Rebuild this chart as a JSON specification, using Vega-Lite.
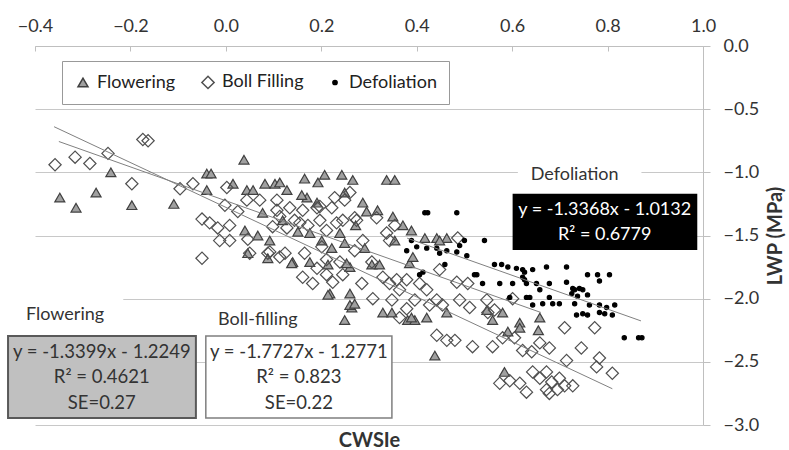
{
  "$schema": "https://vega.github.io/schema/vega-lite/v6.json",
  "width": 668,
  "height": 379,
  "autosize": {"type": "none"},
  "padding": {"left": 35, "top": 46, "right": 86, "bottom": 25},
  "background": "white",
  "config": {"font": "Lato", "view": {"stroke": null}},
  "datasets": {
    "points": [
      {"stage":"Flowering","cwsi":-0.348,"lwp":-1.20},{"stage":"Flowering","cwsi":-0.314,"lwp":-1.28},{"stage":"Flowering","cwsi":-0.272,"lwp":-1.16},{"stage":"Flowering","cwsi":-0.241,"lwp":-1.00},{"stage":"Flowering","cwsi":-0.197,"lwp":-1.26},{"stage":"Flowering","cwsi":-0.109,"lwp":-1.25},{"stage":"Flowering","cwsi":0.038,"lwp":-0.90},{"stage":"Flowering","cwsi":-0.040,"lwp":-1.01},{"stage":"Flowering","cwsi":-0.031,"lwp":-1.01},{"stage":"Flowering","cwsi":-0.040,"lwp":-1.14},{"stage":"Flowering","cwsi":0.015,"lwp":-1.09},{"stage":"Flowering","cwsi":0.082,"lwp":-1.09},{"stage":"Flowering","cwsi":0.103,"lwp":-1.09},{"stage":"Flowering","cwsi":0.113,"lwp":-1.08},{"stage":"Flowering","cwsi":0.128,"lwp":-1.14},{"stage":"Flowering","cwsi":0.165,"lwp":-1.05},{"stage":"Flowering","cwsi":0.207,"lwp":-1.02},{"stage":"Flowering","cwsi":0.243,"lwp":-1.02},{"stage":"Flowering","cwsi":0.266,"lwp":-1.06},{"stage":"Flowering","cwsi":0.337,"lwp":-1.06},{"stage":"Flowering","cwsi":0.354,"lwp":-1.06},{"stage":"Flowering","cwsi":0.044,"lwp":-1.14},{"stage":"Flowering","cwsi":0.057,"lwp":-1.14},{"stage":"Flowering","cwsi":0.193,"lwp":-1.08},{"stage":"Flowering","cwsi":0.040,"lwp":-1.46},{"stage":"Flowering","cwsi":0.067,"lwp":-1.50},{"stage":"Flowering","cwsi":0.170,"lwp":-1.20},{"stage":"Flowering","cwsi":0.191,"lwp":-1.24},{"stage":"Flowering","cwsi":0.287,"lwp":-1.24},{"stage":"Flowering","cwsi":0.318,"lwp":-1.30},{"stage":"Flowering","cwsi":0.239,"lwp":-1.48},{"stage":"Flowering","cwsi":0.249,"lwp":-1.56},{"stage":"Flowering","cwsi":0.176,"lwp":-1.48},{"stage":"Flowering","cwsi":0.201,"lwp":-1.54},{"stage":"Flowering","cwsi":0.077,"lwp":-1.32},{"stage":"Flowering","cwsi":0.046,"lwp":-1.64},{"stage":"Flowering","cwsi":0.088,"lwp":-1.68},{"stage":"Flowering","cwsi":0.140,"lwp":-1.71},{"stage":"Flowering","cwsi":0.176,"lwp":-1.71},{"stage":"Flowering","cwsi":0.214,"lwp":-1.73},{"stage":"Flowering","cwsi":0.260,"lwp":-1.75},{"stage":"Flowering","cwsi":0.306,"lwp":-1.73},{"stage":"Flowering","cwsi":0.322,"lwp":-1.73},{"stage":"Flowering","cwsi":0.218,"lwp":-1.96},{"stage":"Flowering","cwsi":0.260,"lwp":-1.96},{"stage":"Flowering","cwsi":0.249,"lwp":-1.16},{"stage":"Flowering","cwsi":0.295,"lwp":-1.31},{"stage":"Flowering","cwsi":0.350,"lwp":-1.35},{"stage":"Flowering","cwsi":0.389,"lwp":-1.46},{"stage":"Flowering","cwsi":0.417,"lwp":-1.52},{"stage":"Flowering","cwsi":0.442,"lwp":-1.52},{"stage":"Flowering","cwsi":0.463,"lwp":-1.52},{"stage":"Flowering","cwsi":0.448,"lwp":-1.54},{"stage":"Flowering","cwsi":0.371,"lwp":-1.42},{"stage":"Flowering","cwsi":0.354,"lwp":-1.54},{"stage":"Flowering","cwsi":0.253,"lwp":-1.72},{"stage":"Flowering","cwsi":0.264,"lwp":-2.07},{"stage":"Flowering","cwsi":0.249,"lwp":-2.17},{"stage":"Flowering","cwsi":0.329,"lwp":-2.11},{"stage":"Flowering","cwsi":0.348,"lwp":-2.11},{"stage":"Flowering","cwsi":0.381,"lwp":-2.17},{"stage":"Flowering","cwsi":0.396,"lwp":-2.17},{"stage":"Flowering","cwsi":0.421,"lwp":-2.15},{"stage":"Flowering","cwsi":0.463,"lwp":-2.11},{"stage":"Flowering","cwsi":0.385,"lwp":-1.72},{"stage":"Flowering","cwsi":0.392,"lwp":-1.67},{"stage":"Flowering","cwsi":0.559,"lwp":-2.17},{"stage":"Flowering","cwsi":0.547,"lwp":-2.09},{"stage":"Flowering","cwsi":0.438,"lwp":-2.45},{"stage":"Flowering","cwsi":0.580,"lwp":-2.11},{"stage":"Flowering","cwsi":0.616,"lwp":-2.19},{"stage":"Flowering","cwsi":0.616,"lwp":-2.23},{"stage":"Flowering","cwsi":0.658,"lwp":-2.15},{"stage":"Flowering","cwsi":0.655,"lwp":-2.25},{"stage":"Flowering","cwsi":0.591,"lwp":-2.26},{"stage":"Flowering","cwsi":0.584,"lwp":-2.58},{"stage":"Flowering","cwsi":0.389,"lwp":-2.15},{"stage":"Flowering","cwsi":0.138,"lwp":-1.72},{"stage":"Flowering","cwsi":0.214,"lwp":-1.97},{"stage":"Flowering","cwsi":0.260,"lwp":-2.05},{"stage":"Flowering","cwsi":0.270,"lwp":-2.04},{"stage":"Flowering","cwsi":0.119,"lwp":-1.38},{"stage":"Flowering","cwsi":0.151,"lwp":-1.47},{"stage":"Flowering","cwsi":0.092,"lwp":-1.54},{"stage":"Flowering","cwsi":0.222,"lwp":-1.60},{"stage":"Flowering","cwsi":0.272,"lwp":-1.42},{"stage":"Flowering","cwsi":0.291,"lwp":-1.60},{"stage":"Flowering","cwsi":0.159,"lwp":-1.18},
      {"stage":"Boll Filling","cwsi":-0.358,"lwp":-0.94},{"stage":"Boll Filling","cwsi":-0.316,"lwp":-0.88},{"stage":"Boll Filling","cwsi":-0.285,"lwp":-0.93},{"stage":"Boll Filling","cwsi":-0.247,"lwp":-0.85},{"stage":"Boll Filling","cwsi":-0.197,"lwp":-1.09},{"stage":"Boll Filling","cwsi":-0.174,"lwp":-0.74},{"stage":"Boll Filling","cwsi":-0.163,"lwp":-0.75},{"stage":"Boll Filling","cwsi":-0.096,"lwp":-1.13},{"stage":"Boll Filling","cwsi":-0.069,"lwp":-1.09},{"stage":"Boll Filling","cwsi":-0.050,"lwp":-1.37},{"stage":"Boll Filling","cwsi":-0.034,"lwp":-1.40},{"stage":"Boll Filling","cwsi":-0.017,"lwp":-1.44},{"stage":"Boll Filling","cwsi":-0.013,"lwp":-1.54},{"stage":"Boll Filling","cwsi":0.008,"lwp":-1.54},{"stage":"Boll Filling","cwsi":-0.050,"lwp":-1.68},{"stage":"Boll Filling","cwsi":0.002,"lwp":-1.12},{"stage":"Boll Filling","cwsi":0.025,"lwp":-1.31},{"stage":"Boll Filling","cwsi":0.046,"lwp":-1.53},{"stage":"Boll Filling","cwsi":0.050,"lwp":-1.64},{"stage":"Boll Filling","cwsi":0.044,"lwp":-1.22},{"stage":"Boll Filling","cwsi":0.071,"lwp":-1.22},{"stage":"Boll Filling","cwsi":0.092,"lwp":-1.63},{"stage":"Boll Filling","cwsi":0.124,"lwp":-1.64},{"stage":"Boll Filling","cwsi":0.107,"lwp":-1.22},{"stage":"Boll Filling","cwsi":0.098,"lwp":-1.43},{"stage":"Boll Filling","cwsi":0.134,"lwp":-1.28},{"stage":"Boll Filling","cwsi":0.155,"lwp":-1.40},{"stage":"Boll Filling","cwsi":0.165,"lwp":-1.64},{"stage":"Boll Filling","cwsi":0.161,"lwp":-1.83},{"stage":"Boll Filling","cwsi":0.182,"lwp":-1.88},{"stage":"Boll Filling","cwsi":0.211,"lwp":-1.69},{"stage":"Boll Filling","cwsi":0.197,"lwp":-1.27},{"stage":"Boll Filling","cwsi":0.232,"lwp":-1.40},{"stage":"Boll Filling","cwsi":0.260,"lwp":-1.16},{"stage":"Boll Filling","cwsi":0.274,"lwp":-1.38},{"stage":"Boll Filling","cwsi":0.287,"lwp":-1.54},{"stage":"Boll Filling","cwsi":0.316,"lwp":-1.36},{"stage":"Boll Filling","cwsi":0.337,"lwp":-1.48},{"stage":"Boll Filling","cwsi":0.343,"lwp":-1.88},{"stage":"Boll Filling","cwsi":0.329,"lwp":-1.83},{"stage":"Boll Filling","cwsi":-0.002,"lwp":-1.26},{"stage":"Boll Filling","cwsi":0.008,"lwp":-1.42},{"stage":"Boll Filling","cwsi":0.107,"lwp":-1.30},{"stage":"Boll Filling","cwsi":0.113,"lwp":-1.35},{"stage":"Boll Filling","cwsi":0.128,"lwp":-1.44},{"stage":"Boll Filling","cwsi":0.144,"lwp":-1.38},{"stage":"Boll Filling","cwsi":0.161,"lwp":-1.30},{"stage":"Boll Filling","cwsi":0.191,"lwp":-1.28},{"stage":"Boll Filling","cwsi":0.172,"lwp":-1.42},{"stage":"Boll Filling","cwsi":0.197,"lwp":-1.38},{"stage":"Boll Filling","cwsi":0.222,"lwp":-1.28},{"stage":"Boll Filling","cwsi":0.228,"lwp":-1.20},{"stage":"Boll Filling","cwsi":0.211,"lwp":-1.46},{"stage":"Boll Filling","cwsi":0.113,"lwp":-1.67},{"stage":"Boll Filling","cwsi":0.249,"lwp":-1.22},{"stage":"Boll Filling","cwsi":0.270,"lwp":-1.36},{"stage":"Boll Filling","cwsi":0.245,"lwp":-1.38},{"stage":"Boll Filling","cwsi":0.354,"lwp":-1.42},{"stage":"Boll Filling","cwsi":0.343,"lwp":-1.54},{"stage":"Boll Filling","cwsi":0.486,"lwp":-1.52},{"stage":"Boll Filling","cwsi":0.245,"lwp":-1.81},{"stage":"Boll Filling","cwsi":0.285,"lwp":-1.88},{"stage":"Boll Filling","cwsi":0.358,"lwp":-1.85},{"stage":"Boll Filling","cwsi":0.379,"lwp":-1.85},{"stage":"Boll Filling","cwsi":0.406,"lwp":-1.88},{"stage":"Boll Filling","cwsi":0.308,"lwp":-2.00},{"stage":"Boll Filling","cwsi":0.348,"lwp":-2.01},{"stage":"Boll Filling","cwsi":0.364,"lwp":-1.93},{"stage":"Boll Filling","cwsi":0.396,"lwp":-2.01},{"stage":"Boll Filling","cwsi":0.421,"lwp":-1.93},{"stage":"Boll Filling","cwsi":0.379,"lwp":-2.08},{"stage":"Boll Filling","cwsi":0.427,"lwp":-2.05},{"stage":"Boll Filling","cwsi":0.442,"lwp":-2.01},{"stage":"Boll Filling","cwsi":0.454,"lwp":-2.05},{"stage":"Boll Filling","cwsi":0.364,"lwp":-2.15},{"stage":"Boll Filling","cwsi":0.448,"lwp":-1.77},{"stage":"Boll Filling","cwsi":0.484,"lwp":-1.87},{"stage":"Boll Filling","cwsi":0.507,"lwp":-1.88},{"stage":"Boll Filling","cwsi":0.490,"lwp":-2.01},{"stage":"Boll Filling","cwsi":0.511,"lwp":-2.07},{"stage":"Boll Filling","cwsi":0.547,"lwp":-2.01},{"stage":"Boll Filling","cwsi":0.549,"lwp":-2.11},{"stage":"Boll Filling","cwsi":0.442,"lwp":-2.29},{"stage":"Boll Filling","cwsi":0.463,"lwp":-2.33},{"stage":"Boll Filling","cwsi":0.480,"lwp":-2.33},{"stage":"Boll Filling","cwsi":0.517,"lwp":-2.38},{"stage":"Boll Filling","cwsi":0.559,"lwp":-2.38},{"stage":"Boll Filling","cwsi":0.601,"lwp":-2.00},{"stage":"Boll Filling","cwsi":0.563,"lwp":-2.09},{"stage":"Boll Filling","cwsi":0.605,"lwp":-2.31},{"stage":"Boll Filling","cwsi":0.580,"lwp":-2.31},{"stage":"Boll Filling","cwsi":0.622,"lwp":-2.41},{"stage":"Boll Filling","cwsi":0.641,"lwp":-2.42},{"stage":"Boll Filling","cwsi":0.678,"lwp":-2.39},{"stage":"Boll Filling","cwsi":0.658,"lwp":-2.35},{"stage":"Boll Filling","cwsi":0.710,"lwp":-2.23},{"stage":"Boll Filling","cwsi":0.773,"lwp":-2.23},{"stage":"Boll Filling","cwsi":0.745,"lwp":-2.39},{"stage":"Boll Filling","cwsi":0.714,"lwp":-2.49},{"stage":"Boll Filling","cwsi":0.783,"lwp":-2.47},{"stage":"Boll Filling","cwsi":0.777,"lwp":-2.54},{"stage":"Boll Filling","cwsi":0.810,"lwp":-2.59},{"stage":"Boll Filling","cwsi":0.574,"lwp":-2.67},{"stage":"Boll Filling","cwsi":0.595,"lwp":-2.65},{"stage":"Boll Filling","cwsi":0.616,"lwp":-2.67},{"stage":"Boll Filling","cwsi":0.630,"lwp":-2.74},{"stage":"Boll Filling","cwsi":0.643,"lwp":-2.58},{"stage":"Boll Filling","cwsi":0.658,"lwp":-2.63},{"stage":"Boll Filling","cwsi":0.672,"lwp":-2.58},{"stage":"Boll Filling","cwsi":0.683,"lwp":-2.66},{"stage":"Boll Filling","cwsi":0.699,"lwp":-2.63},{"stage":"Boll Filling","cwsi":0.710,"lwp":-2.69},{"stage":"Boll Filling","cwsi":0.727,"lwp":-2.69},{"stage":"Boll Filling","cwsi":0.695,"lwp":-2.72},{"stage":"Boll Filling","cwsi":0.672,"lwp":-2.72},{"stage":"Boll Filling","cwsi":0.678,"lwp":-2.75},{"stage":"Boll Filling","cwsi":0.201,"lwp":-1.59},{"stage":"Boll Filling","cwsi":0.239,"lwp":-1.71},{"stage":"Boll Filling","cwsi":0.270,"lwp":-1.62},{"stage":"Boll Filling","cwsi":0.306,"lwp":-1.71},{"stage":"Boll Filling","cwsi":0.088,"lwp":-1.64},{"stage":"Boll Filling","cwsi":0.191,"lwp":-1.76},{"stage":"Boll Filling","cwsi":0.211,"lwp":-1.81},{"stage":"Boll Filling","cwsi":0.224,"lwp":-1.87},
      {"stage":"Defoliation","cwsi":0.417,"lwp":-1.32},{"stage":"Defoliation","cwsi":0.423,"lwp":-1.32},{"stage":"Defoliation","cwsi":0.484,"lwp":-1.32},{"stage":"Defoliation","cwsi":0.542,"lwp":-1.54},{"stage":"Defoliation","cwsi":0.500,"lwp":-1.54},{"stage":"Defoliation","cwsi":0.490,"lwp":-1.58},{"stage":"Defoliation","cwsi":0.389,"lwp":-1.54},{"stage":"Defoliation","cwsi":0.400,"lwp":-1.59},{"stage":"Defoliation","cwsi":0.421,"lwp":-1.60},{"stage":"Defoliation","cwsi":0.442,"lwp":-1.60},{"stage":"Defoliation","cwsi":0.463,"lwp":-1.62},{"stage":"Defoliation","cwsi":0.484,"lwp":-1.63},{"stage":"Defoliation","cwsi":0.505,"lwp":-1.66},{"stage":"Defoliation","cwsi":0.379,"lwp":-1.62},{"stage":"Defoliation","cwsi":0.563,"lwp":-1.73},{"stage":"Defoliation","cwsi":0.578,"lwp":-1.73},{"stage":"Defoliation","cwsi":0.591,"lwp":-1.75},{"stage":"Defoliation","cwsi":0.609,"lwp":-1.76},{"stage":"Defoliation","cwsi":0.626,"lwp":-1.79},{"stage":"Defoliation","cwsi":0.643,"lwp":-1.77},{"stage":"Defoliation","cwsi":0.672,"lwp":-1.75},{"stage":"Defoliation","cwsi":0.714,"lwp":-1.75},{"stage":"Defoliation","cwsi":0.758,"lwp":-1.81},{"stage":"Defoliation","cwsi":0.779,"lwp":-1.81},{"stage":"Defoliation","cwsi":0.804,"lwp":-1.81},{"stage":"Defoliation","cwsi":0.526,"lwp":-1.81},{"stage":"Defoliation","cwsi":0.574,"lwp":-1.88},{"stage":"Defoliation","cwsi":0.601,"lwp":-1.88},{"stage":"Defoliation","cwsi":0.626,"lwp":-1.85},{"stage":"Defoliation","cwsi":0.651,"lwp":-1.88},{"stage":"Defoliation","cwsi":0.678,"lwp":-1.88},{"stage":"Defoliation","cwsi":0.714,"lwp":-1.87},{"stage":"Defoliation","cwsi":0.727,"lwp":-1.92},{"stage":"Defoliation","cwsi":0.741,"lwp":-1.92},{"stage":"Defoliation","cwsi":0.758,"lwp":-1.97},{"stage":"Defoliation","cwsi":0.622,"lwp":-1.77},{"stage":"Defoliation","cwsi":0.622,"lwp":-1.83},{"stage":"Defoliation","cwsi":0.630,"lwp":-1.88},{"stage":"Defoliation","cwsi":0.783,"lwp":-1.86},{"stage":"Defoliation","cwsi":0.658,"lwp":-1.93},{"stage":"Defoliation","cwsi":0.731,"lwp":-1.93},{"stage":"Defoliation","cwsi":0.748,"lwp":-1.93},{"stage":"Defoliation","cwsi":0.737,"lwp":-1.98},{"stage":"Defoliation","cwsi":0.637,"lwp":-1.99},{"stage":"Defoliation","cwsi":0.595,"lwp":-1.99},{"stage":"Defoliation","cwsi":0.630,"lwp":-1.99},{"stage":"Defoliation","cwsi":0.643,"lwp":-2.05},{"stage":"Defoliation","cwsi":0.664,"lwp":-2.04},{"stage":"Defoliation","cwsi":0.678,"lwp":-1.99},{"stage":"Defoliation","cwsi":0.685,"lwp":-2.04},{"stage":"Defoliation","cwsi":0.699,"lwp":-2.04},{"stage":"Defoliation","cwsi":0.731,"lwp":-2.04},{"stage":"Defoliation","cwsi":0.762,"lwp":-2.05},{"stage":"Defoliation","cwsi":0.783,"lwp":-2.05},{"stage":"Defoliation","cwsi":0.798,"lwp":-2.07},{"stage":"Defoliation","cwsi":0.815,"lwp":-2.05},{"stage":"Defoliation","cwsi":0.735,"lwp":-2.13},{"stage":"Defoliation","cwsi":0.748,"lwp":-2.12},{"stage":"Defoliation","cwsi":0.758,"lwp":-2.13},{"stage":"Defoliation","cwsi":0.783,"lwp":-2.11},{"stage":"Defoliation","cwsi":0.794,"lwp":-2.12},{"stage":"Defoliation","cwsi":0.810,"lwp":-2.13},{"stage":"Defoliation","cwsi":0.725,"lwp":-1.96},{"stage":"Defoliation","cwsi":0.835,"lwp":-2.31},{"stage":"Defoliation","cwsi":0.865,"lwp":-2.31},{"stage":"Defoliation","cwsi":0.872,"lwp":-2.31},{"stage":"Defoliation","cwsi":0.448,"lwp":-1.64},{"stage":"Defoliation","cwsi":0.521,"lwp":-1.81},{"stage":"Defoliation","cwsi":0.538,"lwp":-1.88},{"stage":"Defoliation","cwsi":0.459,"lwp":-1.73},{"stage":"Defoliation","cwsi":0.413,"lwp":-1.79},{"stage":"Defoliation","cwsi":0.406,"lwp":-1.81}
    ],
    "trend": [
      {"series":"Flowering","cwsi":-0.35,"lwp":-0.756},{"series":"Flowering","cwsi":0.66,"lwp":-2.109},
      {"series":"Boll Filling","cwsi":-0.36,"lwp":-0.639},{"series":"Boll Filling","cwsi":0.81,"lwp":-2.713},
      {"series":"Defoliation","cwsi":0.38,"lwp":-1.521},{"series":"Defoliation","cwsi":0.87,"lwp":-2.176}
    ]
  },
  "layer": [
    {
      "data": {"values": [{}]},
      "mark": {"type": "rect", "fill": "white"},
      "encoding": {
        "x": {"datum": -0.46, "type": "quantitative", "scale": {"domain": [-0.4, 1.0], "nice": false, "zero": false}},
        "x2": {"datum": -0.215},
        "y": {"datum": -1.97, "type": "quantitative", "scale": {"domain": [-3, 0], "nice": false, "zero": false}},
        "y2": {"datum": -2.25}
      }
    },
    {
      "data": {"values": [{}]},
      "mark": {"type": "rect", "fill": "white"},
      "encoding": {
        "x": {"datum": 0.612, "type": "quantitative"},
        "x2": {"datum": 0.871},
        "y": {"datum": -0.94, "type": "quantitative"},
        "y2": {"datum": -1.10}
      }
    },
    {
      "data": {"name": "points"},
      "mark": {"type": "point", "filled": true, "opacity": 1, "strokeWidth": 1.2},
      "encoding": {
        "x": {
          "field": "cwsi", "type": "quantitative",
          "scale": {"domain": [-0.4, 1.0], "nice": false, "zero": false},
          "axis": {
            "orient": "top", "values": [-0.4, -0.2, 0, 0.2, 0.4, 0.6, 0.8, 1.0], "format": ".1f",
            "grid": false, "domainColor": "#bfbfbf", "tickColor": "#bfbfbf", "tickSize": -5,
            "labelPadding": 16, "labelFontSize": 18, "labelColor": "#333333", "labelFlush": false,
            "title": "CWSIe", "titleX": 334, "titleY": 394, "titleAngle": 0, "titleAlign": "center", "titleBaseline": "middle",
            "titleFontSize": 20, "titleFontWeight": "bold", "titleColor": "#333333"
          }
        },
        "y": {
          "field": "lwp", "type": "quantitative",
          "scale": {"domain": [-3, 0], "nice": false, "zero": false},
          "axis": {
            "orient": "right", "values": [0, -0.5, -1, -1.5, -2, -2.5, -3], "format": ".1f",
            "grid": true, "gridColor": "#c8c8c8", "domainColor": "#bfbfbf", "tickColor": "#bfbfbf", "tickSize": 7,
            "labelPadding": 13, "labelFontSize": 18, "labelColor": "#333333", "labelFlush": false, "labelAlign": "left",
            "title": "LWP (MPa)", "titleX": 72, "titleY": 189.5, "titleAngle": 270, "titleAlign": "center", "titleBaseline": "middle",
            "titleFontSize": 20, "titleFontWeight": "bold", "titleColor": "#333333"
          }
        },
        "shape": {"field": "stage", "type": "nominal", "scale": {"domain": ["Flowering", "Boll Filling", "Defoliation"], "range": ["triangle-up", "diamond", "circle"]},
          "legend": {"orient": "none", "legendX": 27, "legendY": 15, "direction": "horizontal", "title": null, "fillColor": "white", "strokeColor": "#999999", "padding": 12, "labelFontSize": 18, "labelColor": "#222222", "columnPadding": 22, "labelOffset": 5}},
        "fill": {"field": "stage", "type": "nominal", "scale": {"domain": ["Flowering", "Boll Filling", "Defoliation"], "range": ["#a0a0a0", "transparent", "#000000"]}},
        "stroke": {"field": "stage", "type": "nominal", "scale": {"domain": ["Flowering", "Boll Filling", "Defoliation"], "range": ["#404040", "#505050", "#000000"]}},
        "size": {"field": "stage", "type": "nominal", "scale": {"type": "ordinal", "domain": ["Flowering", "Boll Filling", "Defoliation"], "range": [100, 150, 18]}}
      }
    },
    {
      "data": {"name": "trend"},
      "mark": {"type": "line", "color": "#808080", "strokeWidth": 1},
      "encoding": {
        "x": {"field": "cwsi", "type": "quantitative"},
        "y": {"field": "lwp", "type": "quantitative"},
        "detail": {"field": "series"}
      }
    },
    {
      "data": {"values": [{}]},
      "mark": {"type": "text", "text": "Defoliation", "fontSize": 18, "color": "#333333", "align": "center", "baseline": "middle"},
      "encoding": {"x": {"datum": 0.731, "type": "quantitative"}, "y": {"datum": -1.02, "type": "quantitative"}}
    },
    {
      "data": {"values": [{}]},
      "mark": {"type": "rect", "fill": "black"},
      "encoding": {"x": {"datum": 0.601, "type": "quantitative"}, "x2": {"datum": 0.988}, "y": {"datum": -1.17, "type": "quantitative"}, "y2": {"datum": -1.615}}
    },
    {
      "data": {"values": [{}]},
      "mark": {"type": "text", "text": ["y = -1.3368x - 1.0132", "R² = 0.6779"], "lineHeight": 25, "fontSize": 18, "color": "white", "align": "center", "baseline": "middle"},
      "encoding": {"x": {"datum": 0.794, "type": "quantitative"}, "y": {"datum": -1.30, "type": "quantitative"}}
    },
    {
      "data": {"values": [{}]},
      "mark": {"type": "rect", "fill": "#c0c0c0", "stroke": "#595959", "strokeWidth": 2},
      "encoding": {"x": {"datum": -0.4565, "type": "quantitative"}, "x2": {"datum": -0.0628}, "y": {"datum": -2.296, "type": "quantitative"}, "y2": {"datum": -2.945}}
    },
    {
      "data": {"values": [{}]},
      "mark": {"type": "text", "text": ["y = -1.3399x - 1.2249", "R² = 0.4621", "SE=0.27"], "lineHeight": 25.5, "fontSize": 18.5, "color": "#333333", "align": "center", "baseline": "middle"},
      "encoding": {"x": {"datum": -0.26, "type": "quantitative"}, "y": {"datum": -2.42, "type": "quantitative"}}
    },
    {
      "data": {"values": [{}]},
      "mark": {"type": "rect", "fill": "white", "stroke": "#7f7f7f", "strokeWidth": 1.5},
      "encoding": {"x": {"datum": -0.042, "type": "quantitative"}, "x2": {"datum": 0.348}, "y": {"datum": -2.296, "type": "quantitative"}, "y2": {"datum": -2.945}}
    },
    {
      "data": {"values": [{}]},
      "mark": {"type": "text", "text": ["y = -1.7727x - 1.2771", "R² = 0.823", "SE=0.22"], "lineHeight": 25.5, "fontSize": 18.5, "color": "#333333", "align": "center", "baseline": "middle"},
      "encoding": {"x": {"datum": 0.153, "type": "quantitative"}, "y": {"datum": -2.42, "type": "quantitative"}}
    },
    {
      "data": {"values": [{}]},
      "mark": {"type": "text", "text": "Flowering", "fontSize": 18, "color": "#333333", "align": "center", "baseline": "middle"},
      "encoding": {"x": {"datum": -0.337, "type": "quantitative"}, "y": {"datum": -2.13, "type": "quantitative"}}
    },
    {
      "data": {"values": [{}]},
      "mark": {"type": "text", "text": "Boll-filling", "fontSize": 18, "color": "#333333", "align": "center", "baseline": "middle"},
      "encoding": {"x": {"datum": 0.067, "type": "quantitative"}, "y": {"datum": -2.17, "type": "quantitative"}}
    }
  ]
}
